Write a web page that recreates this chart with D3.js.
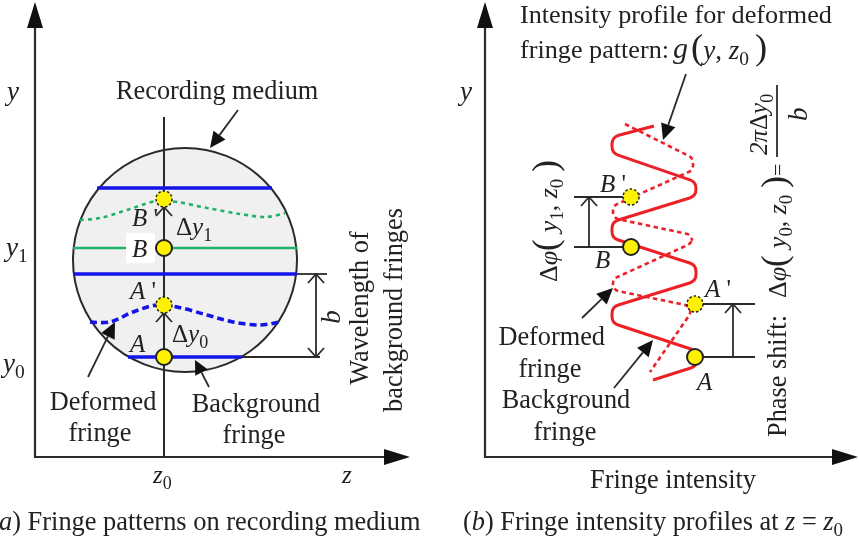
<!DOCTYPE html>
<html>
<head>
<meta charset="utf-8">
<script src="https://cdnjs.cloudflare.com/ajax/libs/d3/7.8.5/d3.min.js"></script>
<style>
  html, body { margin: 0; padding: 0; background: #fff; overflow: hidden; }
  svg { display: block; filter: blur(0.45px); }
  text { font-family: "Liberation Serif", serif; fill: #222; }
</style>
</head>
<body>
<svg width="859" height="541"></svg>
<script>
var width = 859, height = 541;
var ink = "#2b2b2b", red = "#ec2027", blue = "#1414e6", green = "#1fb368", yellow = "#fff200";

// left panel, z / y, origin at the axes crossing
var mediumCentre = [150, 197], mediumRadius = 112;
var blueFringes = [[269, 62, 237], [183, 38, 262], [100, 93, 207]];
var greenFringe = [209, 38, 262];
var deformedGreen = [[45, 237], [65, 239], [92, 247], [122, 256], [142, 255], [172, 249], [205, 243], [232, 240], [250, 244]];
var deformedBlue = [[55, 135], [75, 135], [98, 145], [122, 152], [142, 150], [172, 142], [198, 135], [225, 132], [245, 135]];
var z0 = 129;
var solidDotsA = [209, 100], dashedDotsA = [258, 152];

// right panel, intensity / y. corners of the zigzag, rounded when drawn
var profileSolid = [[169, 331], [127, 320], [127, 304], [211, 275], [211, 261], [127, 235], [127, 219], [211, 192], [211, 176], [127, 150], [127, 134], [212, 106], [212, 91], [168, 77]];
var profileDeformed = [[140, 333], [208, 299], [208, 287], [128, 251], [128, 239], [207, 222], [207, 214], [128, 178], [128, 167], [210, 150], [165, 85]];
var solidDotsB = [[210, 100], [146, 210]], dashedDotsB = [[210, 153], [146, 260]];

var captionA = ["a", ") Fringe patterns on recording medium"];
var captionB = ["(", "b", ") Fringe intensity profiles at ", "z", " = ", "z"];
var headingLines = ["Intensity profile for deformed", "fringe pattern: "];

var svg = d3.select("svg");

var xA = d3.scaleLinear().domain([0, 375]).range([35, 410]);
var yA = d3.scaleLinear().domain([0, 457]).range([457, 0]);
var xB = d3.scaleLinear().domain([0, 374]).range([485, 859]);
var yB = yA;

var line = d3.line().curve(d3.curveCatmullRom.alpha(0.5));

function rounded(points, r) {
    var p = d3.path();
    p.moveTo(points[0][0], points[0][1]);
    for (var i = 1; i < points.length - 1; i++) {
        p.arcTo(points[i][0], points[i][1], points[i + 1][0], points[i + 1][1], r);
    }
    p.lineTo(points[points.length - 1][0], points[points.length - 1][1]);
    return p.toString();
}

function seg(x1, y1, x2, y2, w) {
    svg.append("line")
        .attr("x1", x1).attr("y1", y1).attr("x2", x2).attr("y2", y2)
        .attr("stroke", ink).attr("stroke-width", w || 1.8);
}

// solid head, tip at x2,y2
function arrow(x1, y1, x2, y2, len, half, w) {
    var a = Math.atan2(y2 - y1, x2 - x1);
    var bx = x2 - len * Math.cos(a), by = y2 - len * Math.sin(a);
    seg(x1, y1, bx, by, w || 1.8);
    var dx = half * Math.sin(a), dy = half * Math.cos(a);
    svg.append("path")
        .attr("d", "M" + x2 + "," + y2 + "L" + (bx + dx) + "," + (by - dy) + "L" + (bx - dx) + "," + (by + dy) + "Z")
        .attr("fill", "#111");
}

// open head for the small dimension arrows
function openHead(x, y, dir) {
    seg(x - 8, y + dir * 9, x, y, 1.8);
    seg(x + 8, y + dir * 9, x, y, 1.8);
}

function dot(x, y, dashed) {
    svg.append("circle").attr("cx", x).attr("cy", y).attr("r", 8)
        .attr("fill", yellow).attr("stroke", "#222")
        .attr("stroke-width", dashed ? 1.5 : 2)
        .attr("stroke-dasharray", dashed ? "2.5,2" : null);
}

// parts: [text, "i" italic | "s" subscript | "b" big]
function rich(x, y, parts, opt) {
    opt = opt || {};
    var size = opt.size || 25;
    var t = svg.append("text")
        .attr("font-size", size)
        .attr("text-anchor", opt.anchor || "start");
    if (opt.rot) t.attr("transform", "translate(" + x + "," + y + ") rotate(" + opt.rot + ")");
    else t.attr("x", x).attr("y", y);
    var drop = 0;
    parts.forEach(function (p) {
        var s = t.append("tspan").text(p[0]);
        var k = p[1] || "";
        if (k.indexOf("i") >= 0) s.attr("font-style", "italic");
        if (k.indexOf("b") >= 0) s.attr("font-size", size * 1.35).attr("font-weight", 300);
        var want = k.indexOf("s") >= 0 ? size * 0.22 : 0;
        if (k.indexOf("s") >= 0) s.attr("font-size", size * 0.72);
        if (want !== drop) { s.attr("dy", want - drop); drop = want; }
    });
    return t;
}

// ---- axes
arrow(xA(0), yA(-1), xA(0), 2, 26, 8, 2.2);
arrow(xA(-1), yA(0), 410, yA(0), 26, 8, 2.2);
arrow(xB(0), yB(-1), xB(0), 2, 26, 8, 2.2);
arrow(xB(-1), yB(0), 858, yB(0), 26, 8, 2.2);

// ---- left panel
svg.append("circle")
    .attr("cx", xA(mediumCentre[0])).attr("cy", yA(mediumCentre[1]))
    .attr("r", xA(mediumRadius) - xA(0))
    .attr("fill", "#f0f0f0").attr("stroke", ink).attr("stroke-width", 2);

seg(xA(z0), yA(340), xA(z0), yA(0), 2);

svg.selectAll(".blue").data(blueFringes).enter().append("line")
    .attr("x1", function (d) { return xA(d[1]); })
    .attr("x2", function (d) { return xA(d[2]); })
    .attr("y1", function (d) { return yA(d[0]); })
    .attr("y2", function (d) { return yA(d[0]); })
    .attr("stroke", blue).attr("stroke-width", 3.4);

svg.append("line")
    .attr("x1", xA(greenFringe[1])).attr("x2", xA(greenFringe[2]))
    .attr("y1", yA(greenFringe[0])).attr("y2", yA(greenFringe[0]))
    .attr("stroke", green).attr("stroke-width", 2.6);

svg.append("path")
    .attr("d", line(deformedGreen.map(function (d) { return [xA(d[0]), yA(d[1])]; })))
    .attr("fill", "none").attr("stroke", green).attr("stroke-width", 2.6)
    .attr("stroke-dasharray", "4,4");
svg.append("path")
    .attr("d", line(deformedBlue.map(function (d) { return [xA(d[0]), yA(d[1])]; })))
    .attr("fill", "none").attr("stroke", blue).attr("stroke-width", 3.6)
    .attr("stroke-dasharray", "7,4");

// white box behind the B
svg.append("rect").attr("x", xA(91)).attr("y", yA(224)).attr("width", 29).attr("height", 30).attr("fill", "#fff");

seg(xA(z0), yA(209), xA(z0), yA(250), 2);
openHead(xA(z0), yA(250), 1);
openHead(xA(z0), yA(144), 1);

solidDotsA.forEach(function (v) { dot(xA(z0), yA(v)); });
dashedDotsA.forEach(function (v) { dot(xA(z0), yA(v), true); });

// b dimension
seg(xA(262), yA(183), xA(292), yA(183));
seg(xA(207), yA(100), xA(285), yA(100));
seg(xA(281), yA(183), xA(281), yA(100));
openHead(xA(281), yA(183), 1);
openHead(xA(281), yA(100), -1);

arrow(238, 110, 210, 148, 16, 7.5);
arrow(88, 377, 115, 322, 16, 7.5);
arrow(209, 387, 195, 360, 14, 7);

rich(7, 100, [["y", "i"]], { size: 27 });
rich(6, 256, [["y", "i"], ["1", "s"]], { size: 27 });
rich(3, 372, [["y", "i"], ["0", "s"]], { size: 27 });
rich(116, 99, [["Recording medium"]], { size: 26.3 });
rich(132, 226, [["B", "i"], [" '"]], { size: 25 });
rich(132, 257, [["B", "i"]], { size: 25 });
rich(130, 299, [["A", "i"], [" '"]], { size: 25 });
rich(130, 352, [["A", "i"]], { size: 25 });
rich(176, 235, [["Δ"], ["y", "i"], ["1", "s"]], { size: 25 });
rich(172, 342, [["Δ"], ["y", "i"], ["0", "s"]], { size: 25 });
rich(340, 317, [["b", "i"]], { size: 27, rot: -90, anchor: "middle" });
rich(368, 308, [["Wavelength of"]], { size: 26.3, rot: -90, anchor: "middle" });
rich(402, 310, [["background fringes"]], { size: 26.3, rot: -90, anchor: "middle" });
rich(103, 410, [["Deformed"]], { size: 26.3, anchor: "middle" });
rich(100, 441, [["fringe"]], { size: 26.3, anchor: "middle" });
rich(256, 412, [["Background"]], { size: 26.3, anchor: "middle" });
rich(254, 443, [["fringe"]], { size: 26.3, anchor: "middle" });
rich(153, 483, [["z", "i"], ["0", "s"]], { size: 25 });
rich(342, 483, [["z", "i"]], { size: 25 });
rich(-1, 530, [[captionA[0], "i"], [captionA[1]]], { size: 26.4 });

// ---- right panel
dimension();
function dimension() {
    seg(xB(210), yB(100), xB(270), yB(100));
    seg(xB(210), yB(153), xB(270), yB(153));
    seg(xB(248), yB(100), xB(248), yB(153));
    openHead(xB(248), yB(153), 1);
    seg(xB(89), yB(210), xB(146), yB(210));
    seg(xB(89), yB(260), xB(146), yB(260));
    seg(xB(104), yB(210), xB(104), yB(260));
    openHead(xB(104), yB(260), 1);
}

svg.append("path")
    .attr("d", rounded(profileSolid.map(function (d) { return [xB(d[0]), yB(d[1])]; }), 9))
    .attr("fill", "none").attr("stroke", red).attr("stroke-width", 3);
svg.append("path")
    .attr("d", rounded(profileDeformed.map(function (d) { return [xB(d[0]), yB(d[1])]; }), 7))
    .attr("fill", "none").attr("stroke", red).attr("stroke-width", 2.6)
    .attr("stroke-dasharray", "4.5,3.5");

solidDotsB.forEach(function (d) { dot(xB(d[0]), yB(d[1])); });
dashedDotsB.forEach(function (d) { dot(xB(d[0]), yB(d[1]), true); });

arrow(686, 74, 663, 140, 16, 7.5);
arrow(582, 318, 613, 288, 16, 7.5);
arrow(614, 388, 653, 340, 16, 7.5);

rich(460, 100, [["y", "i"]], { size: 27 });
rich(520, 23, [[headingLines[0]]], { size: 26.2 });
rich(520, 58, [[headingLines[1]]], { size: 26.2 });
rich(673, 58, [["g", "i"]], { size: 30 });
rich(691, 59, [["(", "b"], ["y", "i"], [", "], ["z", "i"], ["0", "s"]], { size: 27 });
rich(755, 59, [[")", "b"]], { size: 27 });
rich(600, 192, [["B", "i"], [" '"]], { size: 25 });
rich(595, 268, [["B", "i"]], { size: 25 });
rich(705, 297, [["A", "i"], [" '"]], { size: 25 });
rich(697, 390, [["A", "i"]], { size: 25 });
rich(557, 282, [["Δ"], ["φ", "i"], ["(\u2009", "b"], ["y", "i"], ["1", "s"], [", "], ["z", "i"], ["0", "s"], ["\u2009)", "b"]], { size: 26, rot: -90 });
rich(605, 345, [["Deformed"]], { size: 26.3, anchor: "end" });
rich(550, 377, [["fringe"]], { size: 26.3, anchor: "middle" });
rich(566, 408, [["Background"]], { size: 26.3, anchor: "middle" });
rich(565, 440, [["fringe"]], { size: 26.3, anchor: "middle" });
rich(786, 437, [["Phase shift:"]], { size: 26.3, rot: -90 });
rich(786, 298, [["Δ"], ["φ", "i"], ["(\u2009", "b"], ["y", "i"], ["0", "s"], [", "], ["z", "i"], ["0", "s"], ["\u2009)", "b"]], { size: 26, rot: -90 });
rich(785, 176, [["="]], { size: 22, rot: -90 });
rich(767, 155, [["2π", "i"], ["Δ"], ["y", "i"], ["0", "s"]], { size: 25, rot: -90 });
seg(777, 85, 777, 157, 1.8);
rich(807, 121, [["b", "i"]], { size: 27, rot: -90 });
rich(673, 488, [["Fringe intensity"]], { size: 26.3, anchor: "middle" });

rich(463, 530, [[captionB[0]], [captionB[1], "i"], [captionB[2]], [captionB[3], "i"], [captionB[4]], [captionB[5], "i"], ["0", "s"]], { size: 26.3 });
</script>
</body>
</html>
